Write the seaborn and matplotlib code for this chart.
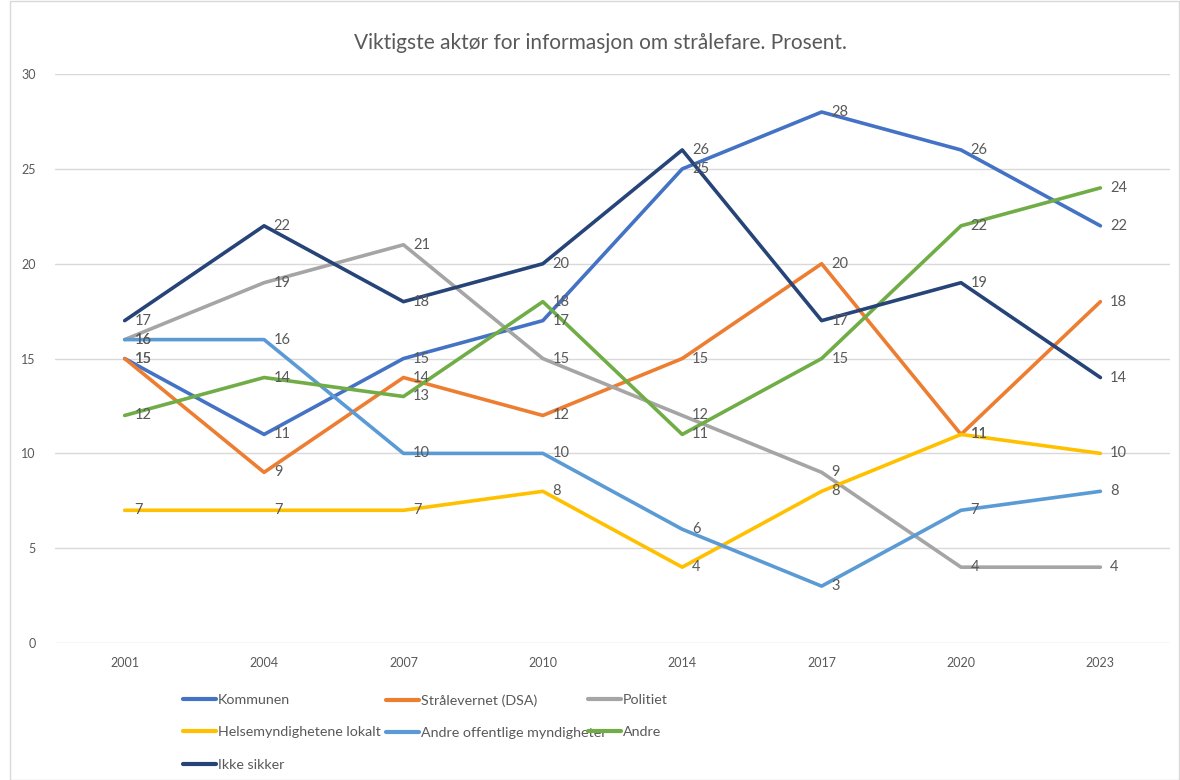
import matplotlib
matplotlib.use("Agg")
import matplotlib.pyplot as plt
import seaborn as sns
import pandas as pd
from matplotlib.patches import Rectangle

years = ["2001", "2004", "2007", "2010", "2014", "2017", "2020", "2023"]
kommunen = [15, 11, 15, 17, 25, 28, 26, 22]
straalevernet = [15, 9, 14, 12, 15, 20, 11, 18]
politiet = [16, 19, 21, 15, 12, 9, 4, 4]
helse_lokalt = [7, 7, 7, 8, 4, 8, 11, 10]
andre_offentlige = [16, 16, 10, 10, 6, 3, 7, 8]
andre = [12, 14, 13, 18, 11, 15, 22, 24]
ikke_sikker = [17, 22, 18, 20, 26, 17, 19, 14]

series = {
    "Kommunen": kommunen,
    "Strålevernet (DSA)": straalevernet,
    "Politiet": politiet,
    "Helsemyndighetene lokalt": helse_lokalt,
    "Andre offentlige myndigheter": andre_offentlige,
    "Andre": andre,
    "Ikke sikker": ikke_sikker,
}
colors = {
    "Kommunen": "#4472C4",
    "Strålevernet (DSA)": "#ED7D31",
    "Politiet": "#A5A5A5",
    "Helsemyndighetene lokalt": "#FFC000",
    "Andre offentlige myndigheter": "#5B9BD5",
    "Andre": "#70AD47",
    "Ikke sikker": "#264478",
}

rows = []
for name, vals in series.items():
    for i, (y, v) in enumerate(zip(years, vals)):
        rows.append({"pos": i, "year": y, "value": v, "serie": name})
df = pd.DataFrame(rows)

sns.set_theme(style="white")
plt.rcParams["font.family"] = ["Lato", "DejaVu Sans"]

fig = plt.figure(figsize=(11.8, 7.8), dpi=100)
ax = fig.add_axes([0.0466, 0.1756, 0.945, 0.7294])

sns.lineplot(data=df, x="pos", y="value", hue="serie", palette=colors,
             hue_order=list(series.keys()), linewidth=2.6, ax=ax, legend=True,
             estimator=None, sort=False)

txt = "#595959"
for name, vals in series.items():
    for i, v in enumerate(vals):
        ax.annotate(str(v), (i, v), xytext=(7, 0), textcoords="offset points",
                    va="center", ha="left", fontsize=10.5, color=txt)

ax.set_xlim(-0.5, len(years) - 0.5)
ax.set_ylim(0, 30)
ax.set_yticks([0, 5, 10, 15, 20, 25, 30])
ax.set_xticks(range(len(years)))
ax.set_xticklabels(years)
ax.tick_params(axis="both", labelsize=9, colors=txt, length=0)
ax.tick_params(axis="y", pad=14)
ax.tick_params(axis="x", pad=10)
ax.grid(axis="y", color="#D9D9D9", linewidth=1)
ax.set_axisbelow(True)
for s in ax.spines.values():
    s.set_visible(False)
ax.set_xlabel("")
ax.set_ylabel("")

fig.text(600 / 1180, 1 - 43 / 780,
         "Viktigste aktør for informasjon om strålefare. Prosent.",
         fontsize=15, color=txt, ha="center", va="center")

handles, labels = ax.get_legend_handles_labels()
hmap = dict(zip(labels, handles))
ax.get_legend().remove()
columns = [["Kommunen", "Helsemyndighetene lokalt", "Ikke sikker"],
           ["Strålevernet (DSA)", "Andre offentlige myndigheter"],
           ["Politiet", "Andre"]]
col_x = [183, 386, 588]
for cx, col in zip(col_x, columns):
    leg = fig.legend([hmap[o] for o in col], col, ncol=1, loc="upper left",
                     bbox_to_anchor=(cx / 1180, 1 - 694 / 780),
                     bbox_transform=fig.transFigure,
                     frameon=False, fontsize=10.3, handlelength=2.3, handletextpad=0.12,
                     labelspacing=1.42, borderaxespad=0, borderpad=0)
    for t in leg.get_texts():
        t.set_color(txt)
    for l in leg.get_lines():
        l.set_linewidth(3)

fig.patches.append(Rectangle((10 / 1180, 0), 1 - 10 / 1180 - 0.001, 0.999,
                             transform=fig.transFigure, fill=False,
                             edgecolor="#D9D9D9", linewidth=1))

fig.savefig("out.png", dpi=100)
